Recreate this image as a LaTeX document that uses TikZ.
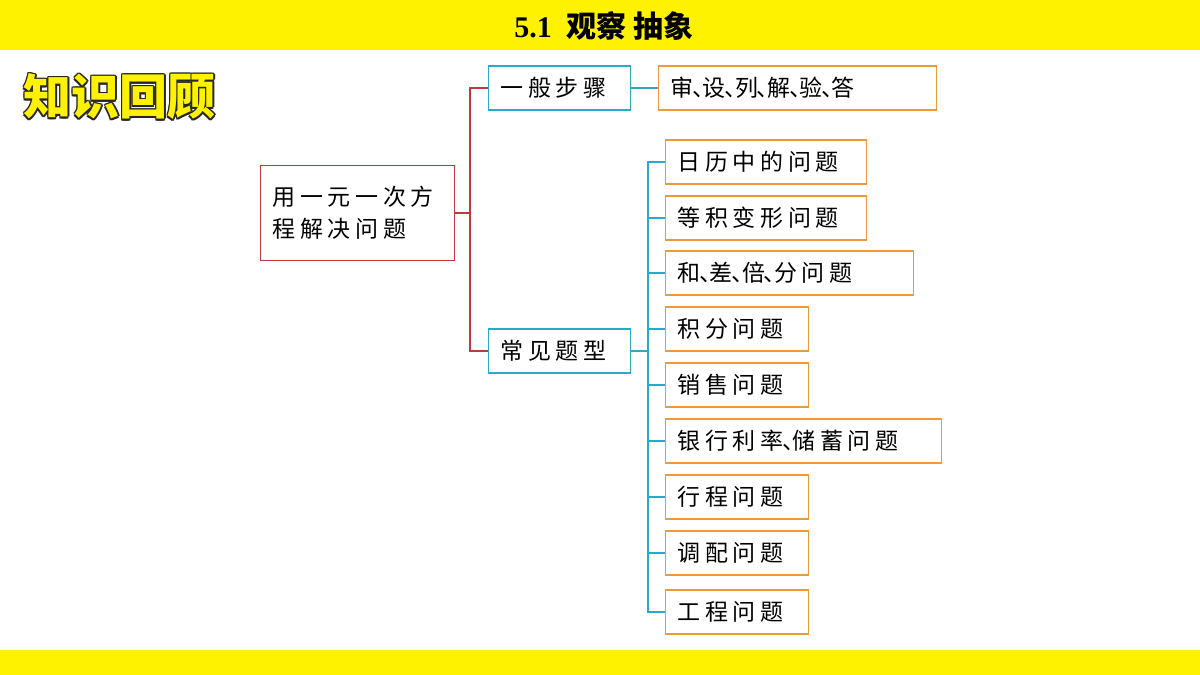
\documentclass[tikz,border=0pt]{standalone}
\usepackage{fontspec}
\setmainfont{Liberation Serif}
\newfontfamily\cjk[LetterSpace=20]{Noto Sans CJK SC}
\newfontfamily\cjkt{Noto Sans CJK SC}
\definecolor{barcol}{HTML}{FFF200}
\definecolor{rline}{HTML}{C0393B}
\definecolor{cline}{HTML}{2EA8C8}
\definecolor{oline}{HTML}{EE9A3A}
\newcommand{\dn}{\kern-0.05em、\kern-0.55em}
\begin{document}
\begin{tikzpicture}[x=1pt,y=-1pt,
  bx/.style={draw=#1,line width=1.3pt,anchor=west,minimum height=44pt,inner xsep=12pt,inner ysep=0pt,font=\cjk\fontsize{23}{30}\selectfont,align=left},
  con/.style={line width=1.3pt}]
\useasboundingbox (0,0) rectangle (1200,675);
\fill[fill=barcol] (0,0) rectangle (1200,50);
\fill[fill=barcol] (0,650) rectangle (1200,675);
\node[font=\bfseries\fontsize{30}{32}\selectfont] (title) at (604,26) {5.1\ \ {\cjkt\bfseries 观察 抽象}};
\foreach \dx/\dy in {-1.5/0,1.5/0,0/-1.5,0/1.5,-1.1/-1.1,1.1/1.1,-1.1/1.1,1.1/-1.1}
  \node[anchor=west,font=\cjkt\bfseries\fontsize{48}{52}\selectfont,text=black!85] at (20+\dx,97+\dy) {知识回顾};
\node[anchor=west,font=\cjkt\bfseries\fontsize{48}{52}\selectfont,text=barcol] (kh) at (20,97) {知识回顾};

\node[bx=rline,minimum height=95pt,text width=170pt,font=\cjk\fontsize{23}{32}\selectfont] (root) at (260,213) {用一元一次方\\程解决问题};
\node[bx=cline,text width=118pt] (s1) at (488,88) {一般步骤};
\node[bx=cline,text width=118pt] (s2) at (488,351) {常见题型};
\node[bx=oline,text width=254pt] (a1) at (658,88) {审\dn 设\dn 列\dn 解\dn 验\dn 答};
\node[bx=oline,text width=177pt] (b1) at (665,162) {日历中的问题};
\node[bx=oline,text width=177pt] (b2) at (665,218) {等积变形问题};
\node[bx=oline,text width=224pt] (b3) at (665,273) {和\dn 差\dn 倍\dn 分问题};
\node[bx=oline,text width=119pt] (b4) at (665,329) {积分问题};
\node[bx=oline,text width=119pt] (b5) at (665,385) {销售问题};
\node[bx=oline,text width=252pt] (b6) at (665,441) {银行利率\dn 储蓄问题};
\node[bx=oline,text width=119pt] (b7) at (665,497) {行程问题};
\node[bx=oline,text width=119pt] (b8) at (665,553) {调配问题};
\node[bx=oline,text width=119pt] (b9) at (665,612) {工程问题};

\coordinate (rj) at (470,213);
\draw[con,rline] (root.east) -- (rj);
\draw[con,rline] (s1.west) -| (rj) |- (s2.west);
\draw[con,cline] (s1.east) -- (a1.west);
\coordinate (cj) at (648,351);
\draw[con,cline] (s2.east) -- (cj);
\foreach \b in {b1,b2,b3,b4,b5,b6,b7,b8,b9}
  \draw[con,cline] (cj) |- (\b.west);
\end{tikzpicture}
\end{document}
